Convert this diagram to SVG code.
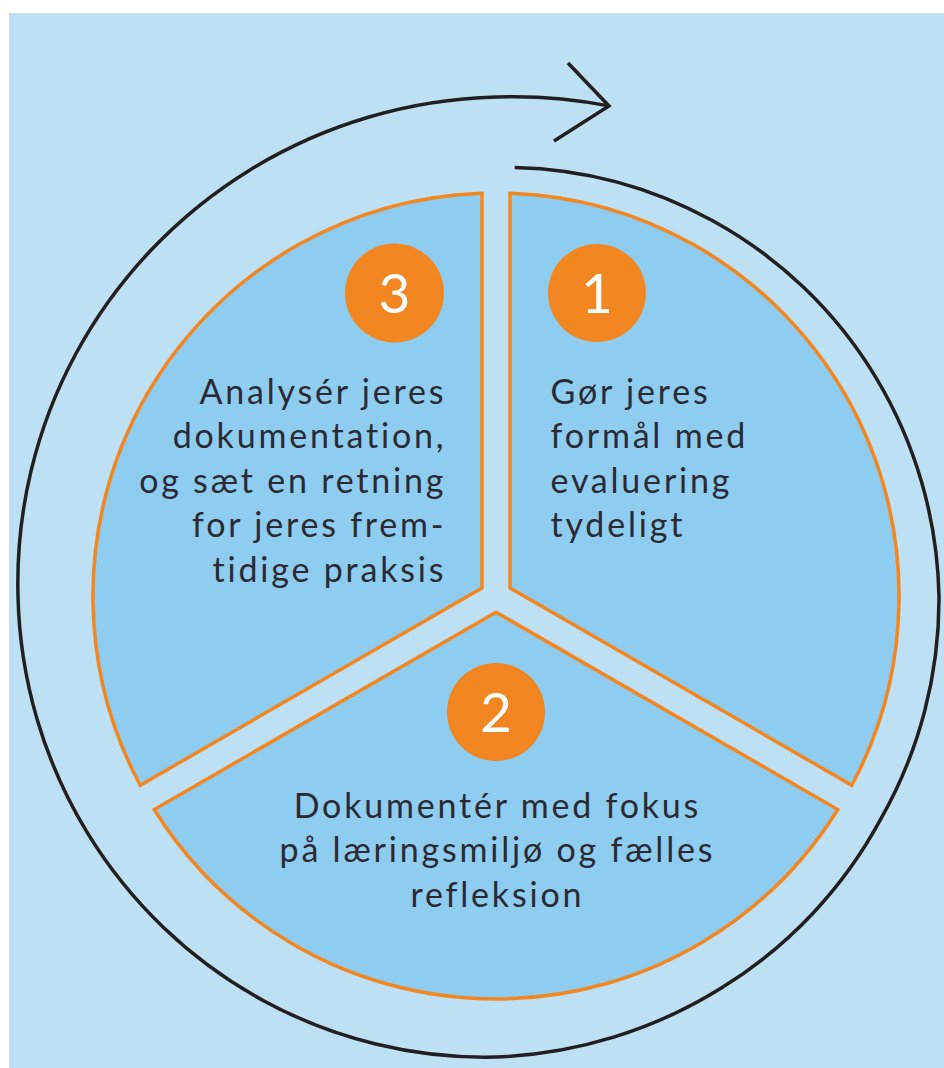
<svg xmlns="http://www.w3.org/2000/svg" width="944" height="1068" viewBox="0 0 944 1068">
<style>
.sector{fill:#8ecdf0;stroke:#f28621;stroke-width:3.5;stroke-linejoin:miter}
.badge{fill:#f28621}
.num{font-family:Lato,"Liberation Sans",sans-serif;font-size:55px;fill:#ffffff;text-anchor:middle}
.lbl{font-family:Lato,"Liberation Sans",sans-serif;font-size:34px;fill:#2b2a33;letter-spacing:2.8px}
.cycle{fill:none;stroke:#231f20;stroke-width:3.5}
</style>
<rect x="0" y="0" width="944" height="1068" fill="#ffffff"/>
<rect x="9" y="13" width="935" height="1055" fill="#bde0f5"/>
<g id="connectors">
<path class="cycle" d="M514.7,167.4 A431,431 0 0 1 712.7,220.7 A436,436 0 0 1 875.5,376.9 A441,441 0 0 1 939,596 A444,444 0 0 1 881.1,818.4 A448,448 0 0 1 722.1,987.5 A457,457 0 0 1 496,1057 A464,464 0 0 1 262.6,1000.2 A470,470 0 0 1 87,832.2 A475,475 0 0 1 18,596 A482,482 0 0 1 76,353.5 A489,489 0 0 1 250,169.9 A496,496 0 0 1 496,97 A501,501 0 0 1 609.1,105.9"/>
<polyline class="cycle" points="568,63 609,106 554,141" stroke-linejoin="miter"/>
</g>
<g id="step1">
<path class="sector" d="M510,587.9 L510,193.2 A403,403 0 0 1 851.8,785.3 Z"/>
<circle class="badge" cx="597" cy="293" r="49"/>
<text class="num" x="597" y="312.5">1</text>
<text class="lbl"><tspan x="550.5" y="404">Gør jeres</tspan><tspan x="550.5" y="448.4">formål med</tspan><tspan x="550.5" y="492.8">evaluering</tspan><tspan x="550.5" y="537.2">tydeligt</tspan></text>
</g>
<g id="step2">
<path class="sector" d="M496,612.2 L837.8,809.5 A403,403 0 0 1 154.2,809.5 Z"/>
<circle class="badge" cx="496" cy="712" r="49"/>
<text class="num" x="496" y="731.5">2</text>
<text class="lbl" text-anchor="middle"><tspan x="497.4" y="818">Dokumentér med fokus</tspan><tspan x="497.4" y="862.4">på læringsmiljø og fælles</tspan><tspan x="497.4" y="906.8">refleksion</tspan></text>
</g>
<g id="step3">
<path class="sector" d="M482,587.9 L140.2,785.3 A403,403 0 0 1 482,193.2 Z"/>
<circle class="badge" cx="394.5" cy="293" r="49.5"/>
<text class="num" x="394.5" y="312.5">3</text>
<text class="lbl" text-anchor="end"><tspan x="446.3" y="404">Analysér jeres</tspan><tspan x="446.3" y="448.4">dokumentation,</tspan><tspan x="446.3" y="492.8">og sæt en retning</tspan><tspan x="446.3" y="537.2">for jeres frem-</tspan><tspan x="446.3" y="581.6">tidige praksis</tspan></text>
</g>
</svg>
